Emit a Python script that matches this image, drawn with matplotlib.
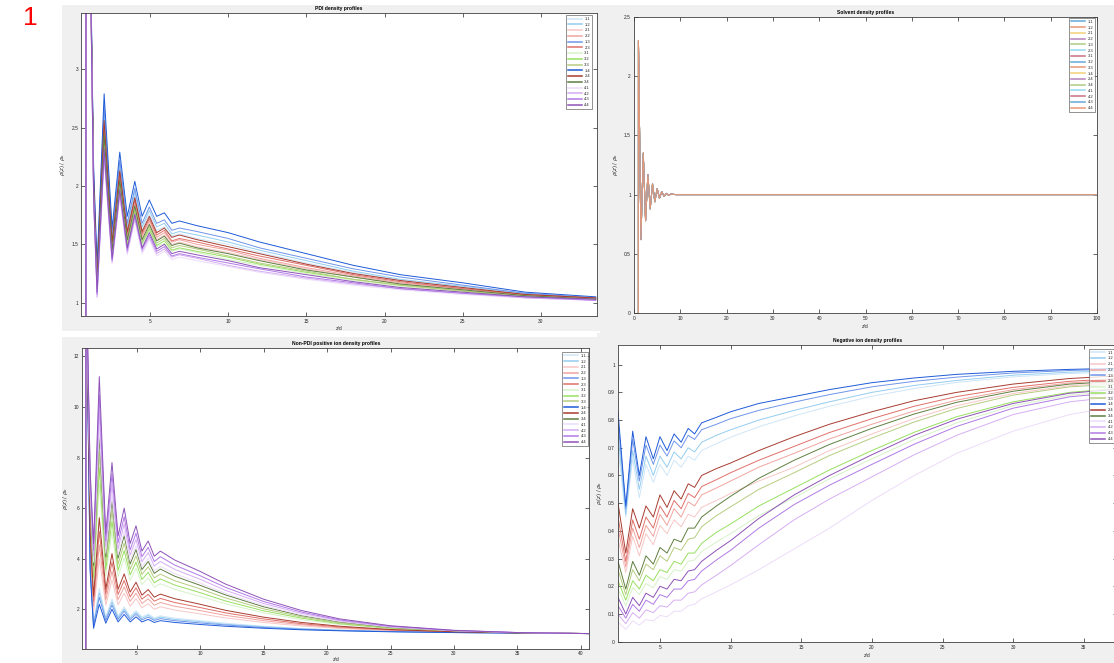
import matplotlib
matplotlib.use('Agg')
import matplotlib.pyplot as plt
from matplotlib.patches import Rectangle
from matplotlib.ticker import FuncFormatter

plt.rcParams['font.family'] = ['Liberation Sans', 'DejaVu Sans']
plt.rcParams['mathtext.fontset'] = 'dejavusans'

W, H = 1114, 663

labels = ['1:1', '1:2', '2:1', '2:2', '1:3', '2:3', '3:1', '3:2', '3:3',
          '1:4', '2:4', '3:4', '4:1', '4:2', '4:3', '4:4']

family_colors = {
    '1:1': '#cfe6f8', '1:2': '#94cdf0', '1:3': '#6f95ea', '1:4': '#1f5bd8',
    '2:1': '#f8c6c6', '2:2': '#f0a4a0', '2:3': '#e0706a', '2:4': '#a83c30',
    '3:1': '#d6f2c8', '3:2': '#98e060', '3:3': '#b6cc80', '3:4': '#5f7f40',
    '4:1': '#ecdcfa', '4:2': '#d6aef4', '4:3': '#b07ae6', '4:4': '#8e52b8',
}
matlab_cycle = ['#0072BD', '#D95319', '#EDB120', '#7E2F8E', '#77AC30', '#4DBEEE', '#A2142F']

# ---------------- PDI density profiles ----------------
pdi_x = [0.9, 0.915, 1.4, 1.62, 2.07, 2.58, 3.07, 3.55, 4.03, 4.5, 4.96, 5.43,
         5.92, 6.4, 6.88, 8, 10, 12, 15, 18, 21, 25, 29, 33.5]
pdi = {
    '1:4': [0, 6.5, 2.15, 1.32, 2.79, 1.64, 2.29, 1.74, 2.04, 1.74, 1.88, 1.74, 1.77, 1.68, 1.70, 1.66, 1.60, 1.52, 1.42, 1.32, 1.24, 1.17, 1.09, 1.05],
    '1:3': [0, 6.5, 2.10, 1.27, 2.69, 1.58, 2.22, 1.68, 1.98, 1.68, 1.82, 1.68, 1.71, 1.62, 1.64, 1.61, 1.55, 1.47, 1.38, 1.29, 1.22, 1.15, 1.08, 1.04],
    '1:2': [0, 6.5, 2.07, 1.24, 2.63, 1.55, 2.18, 1.65, 1.95, 1.65, 1.79, 1.65, 1.68, 1.59, 1.61, 1.58, 1.52, 1.45, 1.36, 1.27, 1.20, 1.14, 1.08, 1.04],
    '1:1': [0, 6.5, 2.04, 1.22, 2.59, 1.53, 2.15, 1.62, 1.92, 1.63, 1.76, 1.62, 1.65, 1.57, 1.59, 1.55, 1.50, 1.43, 1.34, 1.26, 1.19, 1.13, 1.07, 1.04],
    '2:4': [0, 6.5, 2.03, 1.21, 2.56, 1.52, 2.13, 1.61, 1.90, 1.61, 1.74, 1.60, 1.64, 1.56, 1.58, 1.54, 1.48, 1.42, 1.33, 1.25, 1.19, 1.13, 1.07, 1.04],
    '2:3': [0, 6.5, 2.01, 1.19, 2.52, 1.49, 2.11, 1.59, 1.88, 1.59, 1.72, 1.58, 1.62, 1.53, 1.55, 1.52, 1.46, 1.40, 1.32, 1.24, 1.18, 1.12, 1.07, 1.04],
    '2:2': [0, 6.5, 1.99, 1.17, 2.49, 1.48, 2.08, 1.57, 1.86, 1.57, 1.70, 1.56, 1.60, 1.52, 1.54, 1.50, 1.45, 1.38, 1.30, 1.23, 1.17, 1.12, 1.06, 1.03],
    '2:1': [0, 6.5, 1.97, 1.15, 2.45, 1.46, 2.06, 1.55, 1.84, 1.55, 1.68, 1.54, 1.58, 1.50, 1.52, 1.48, 1.43, 1.37, 1.29, 1.22, 1.16, 1.11, 1.06, 1.03],
    '3:4': [0, 6.5, 1.96, 1.15, 2.44, 1.45, 2.05, 1.54, 1.83, 1.54, 1.67, 1.53, 1.57, 1.49, 1.51, 1.47, 1.42, 1.36, 1.28, 1.22, 1.16, 1.11, 1.06, 1.03],
    '3:3': [0, 6.5, 1.95, 1.13, 2.40, 1.43, 2.03, 1.52, 1.81, 1.52, 1.65, 1.51, 1.55, 1.47, 1.49, 1.46, 1.40, 1.34, 1.27, 1.20, 1.15, 1.10, 1.06, 1.03],
    '3:2': [0, 6.5, 1.93, 1.12, 2.37, 1.41, 2.01, 1.50, 1.79, 1.51, 1.63, 1.49, 1.53, 1.45, 1.47, 1.44, 1.39, 1.33, 1.26, 1.20, 1.15, 1.10, 1.05, 1.03],
    '3:1': [0, 6.5, 1.92, 1.10, 2.35, 1.40, 1.99, 1.48, 1.78, 1.49, 1.62, 1.48, 1.51, 1.44, 1.46, 1.43, 1.37, 1.32, 1.25, 1.19, 1.14, 1.09, 1.05, 1.03],
    '4:4': [0, 6.5, 1.90, 1.09, 2.32, 1.38, 1.97, 1.47, 1.76, 1.47, 1.60, 1.46, 1.50, 1.42, 1.44, 1.41, 1.36, 1.30, 1.24, 1.18, 1.13, 1.09, 1.05, 1.03],
    '4:3': [0, 6.5, 1.88, 1.07, 2.28, 1.36, 1.94, 1.45, 1.74, 1.46, 1.58, 1.44, 1.48, 1.40, 1.42, 1.39, 1.34, 1.29, 1.22, 1.17, 1.12, 1.08, 1.05, 1.02],
    '4:2': [0, 6.5, 1.87, 1.05, 2.25, 1.35, 1.92, 1.43, 1.72, 1.44, 1.56, 1.42, 1.46, 1.39, 1.41, 1.38, 1.32, 1.27, 1.21, 1.16, 1.12, 1.08, 1.04, 1.02],
    '4:1': [0, 6.5, 1.85, 1.04, 2.22, 1.33, 1.90, 1.41, 1.70, 1.42, 1.54, 1.40, 1.44, 1.37, 1.39, 1.36, 1.31, 1.26, 1.20, 1.15, 1.11, 1.07, 1.04, 1.02],
}

# ---------------- Solvent density profiles (all series coincide) ----------------
solv_x = [0.95, 0.96, 1.5, 2.0, 2.5, 3.0, 3.5, 4.0, 4.5, 5.0, 5.5, 6.0, 6.5, 7.0, 7.5, 8.0, 9.0, 100]
solv_y = [0, 2.3, 0.62, 1.35, 0.78, 1.17, 0.88, 1.09, 0.94, 1.05, 0.97, 1.025, 0.985, 1.01, 0.995, 1.004, 1.0, 1.0]

# ---------------- Non-PDI positive ion density profiles ----------------
pos_x = [1.0, 1.015, 1.35, 1.62, 2.07, 2.58, 3.07, 3.55, 4.03, 4.5, 4.96, 5.43,
         5.92, 6.4, 6.88, 8, 10, 12, 15, 18, 21, 25, 30, 35, 40.6]
pos = {
    '4:4': [0, 16, 7.5, 4.60, 11.2, 5.00, 7.80, 4.90, 6.00, 4.60, 5.30, 4.30, 4.70, 4.10, 4.30, 3.95, 3.50, 3.00, 2.40, 1.95, 1.62, 1.35, 1.17, 1.08, 1.04],
    '4:3': [0, 16, 7.18, 4.33, 10.48, 4.72, 7.34, 4.63, 5.66, 4.35, 5.01, 4.08, 4.45, 3.89, 4.08, 3.75, 3.33, 2.87, 2.31, 1.89, 1.58, 1.33, 1.16, 1.08, 1.04],
    '4:2': [0, 16, 6.9, 4.10, 9.85, 4.47, 6.93, 4.39, 5.37, 4.14, 4.76, 3.88, 4.24, 3.71, 3.89, 3.58, 3.19, 2.75, 2.23, 1.84, 1.55, 1.31, 1.16, 1.08, 1.04],
    '4:1': [0, 16, 6.62, 3.86, 9.22, 4.22, 6.52, 4.15, 5.08, 3.92, 4.51, 3.68, 4.02, 3.52, 3.70, 3.41, 3.04, 2.63, 2.15, 1.78, 1.52, 1.30, 1.15, 1.08, 1.04],
    '3:4': [0, 16, 6.46, 3.73, 8.86, 4.08, 6.29, 4.02, 4.91, 3.79, 4.36, 3.57, 3.89, 3.42, 3.59, 3.31, 2.95, 2.57, 2.10, 1.75, 1.50, 1.29, 1.15, 1.07, 1.04],
    '3:3': [0, 16, 6.18, 3.49, 8.23, 3.83, 5.89, 3.78, 4.61, 3.58, 4.11, 3.38, 3.68, 3.24, 3.39, 3.13, 2.81, 2.45, 2.02, 1.70, 1.46, 1.27, 1.14, 1.07, 1.04],
    '3:2': [0, 16, 5.9, 3.26, 7.6, 3.58, 5.48, 3.54, 4.32, 3.36, 3.86, 3.18, 3.46, 3.05, 3.20, 2.96, 2.66, 2.33, 1.94, 1.65, 1.43, 1.25, 1.13, 1.07, 1.04],
    '3:1': [0, 16, 5.62, 3.03, 6.97, 3.33, 5.07, 3.30, 4.03, 3.14, 3.61, 2.98, 3.24, 2.87, 3.01, 2.79, 2.51, 2.22, 1.86, 1.59, 1.40, 1.24, 1.13, 1.07, 1.04],
    '2:4': [0, 16, 5.02, 2.52, 5.62, 2.80, 4.20, 2.79, 3.40, 2.68, 3.07, 2.56, 2.78, 2.48, 2.60, 2.42, 2.20, 1.96, 1.69, 1.48, 1.33, 1.20, 1.11, 1.07, 1.04],
    '2:3': [0, 16, 4.78, 2.32, 5.08, 2.59, 3.86, 2.59, 3.14, 2.49, 2.85, 2.40, 2.59, 2.32, 2.43, 2.27, 2.07, 1.86, 1.62, 1.43, 1.30, 1.19, 1.11, 1.07, 1.04],
    '2:2': [0, 16, 4.54, 2.12, 4.54, 2.37, 3.51, 2.38, 2.89, 2.31, 2.64, 2.23, 2.41, 2.16, 2.27, 2.12, 1.95, 1.76, 1.55, 1.39, 1.27, 1.17, 1.10, 1.07, 1.04],
    '2:1': [0, 16, 4.3, 1.92, 4.0, 2.16, 3.16, 2.18, 2.64, 2.12, 2.42, 2.06, 2.22, 2.00, 2.10, 1.97, 1.82, 1.66, 1.48, 1.34, 1.24, 1.16, 1.10, 1.06, 1.04],
    '1:1': [0, 16, 3.78, 1.48, 2.83, 1.70, 2.41, 1.74, 2.09, 1.72, 1.95, 1.70, 1.82, 1.66, 1.74, 1.65, 1.55, 1.45, 1.33, 1.24, 1.18, 1.13, 1.09, 1.06, 1.04],
    '1:2': [0, 16, 3.7, 1.42, 2.65, 1.63, 2.29, 1.67, 2.01, 1.66, 1.88, 1.64, 1.76, 1.61, 1.69, 1.60, 1.51, 1.41, 1.31, 1.23, 1.17, 1.12, 1.08, 1.06, 1.04],
    '1:3': [0, 16, 3.62, 1.35, 2.47, 1.56, 2.17, 1.60, 1.93, 1.59, 1.81, 1.58, 1.69, 1.56, 1.63, 1.55, 1.46, 1.38, 1.28, 1.21, 1.16, 1.12, 1.08, 1.06, 1.04],
    '1:4': [0, 16, 3.5, 1.25, 2.2, 1.45, 2.0, 1.5, 1.8, 1.5, 1.7, 1.5, 1.6, 1.48, 1.55, 1.48, 1.40, 1.33, 1.25, 1.19, 1.15, 1.11, 1.08, 1.06, 1.04],
}

# ---------------- Negative ion density profiles ----------------
neg_x = [2.03, 2.58, 3.07, 3.54, 4.01, 4.53, 5.0, 5.5, 6.0, 6.5, 7.0, 7.45,
         7.95, 9, 10, 12, 14.5, 17, 20, 23, 26, 30, 34, 37.5]
neg = {
    '1:4': [0.83, 0.49, 0.76, 0.60, 0.74, 0.66, 0.74, 0.69, 0.75, 0.72, 0.77, 0.75, 0.79, 0.81, 0.83, 0.86, 0.885, 0.91, 0.935, 0.952, 0.965, 0.976, 0.983, 0.987],
    '1:3': [0.80, 0.48, 0.73, 0.58, 0.71, 0.64, 0.71, 0.67, 0.725, 0.70, 0.745, 0.73, 0.765, 0.785, 0.805, 0.835, 0.865, 0.892, 0.92, 0.94, 0.955, 0.97, 0.979, 0.984],
    '1:2': [0.75, 0.46, 0.69, 0.55, 0.67, 0.60, 0.67, 0.63, 0.685, 0.66, 0.70, 0.685, 0.72, 0.745, 0.765, 0.80, 0.835, 0.866, 0.90, 0.925, 0.943, 0.962, 0.973, 0.978],
    '1:1': [0.70, 0.45, 0.66, 0.52, 0.64, 0.575, 0.64, 0.60, 0.655, 0.63, 0.67, 0.655, 0.69, 0.715, 0.738, 0.776, 0.815, 0.85, 0.886, 0.914, 0.936, 0.956, 0.968, 0.974],
    '2:4': [0.50, 0.32, 0.48, 0.41, 0.49, 0.45, 0.53, 0.485, 0.545, 0.515, 0.57, 0.557, 0.60, 0.625, 0.645, 0.69, 0.74, 0.785, 0.83, 0.87, 0.90, 0.93, 0.95, 0.96],
    '2:3': [0.45, 0.29, 0.44, 0.37, 0.45, 0.41, 0.49, 0.45, 0.51, 0.48, 0.535, 0.52, 0.56, 0.585, 0.61, 0.655, 0.705, 0.755, 0.805, 0.85, 0.885, 0.918, 0.94, 0.95],
    '2:2': [0.41, 0.27, 0.41, 0.34, 0.42, 0.38, 0.46, 0.42, 0.48, 0.45, 0.505, 0.49, 0.53, 0.555, 0.58, 0.63, 0.68, 0.732, 0.785, 0.833, 0.872, 0.91, 0.934, 0.945],
    '2:1': [0.37, 0.25, 0.38, 0.31, 0.39, 0.35, 0.42, 0.39, 0.44, 0.415, 0.46, 0.45, 0.485, 0.51, 0.535, 0.58, 0.63, 0.69, 0.75, 0.806, 0.852, 0.896, 0.924, 0.935],
    '3:4': [0.29, 0.19, 0.29, 0.24, 0.31, 0.28, 0.34, 0.32, 0.37, 0.36, 0.41, 0.41, 0.45, 0.49, 0.525, 0.59, 0.655, 0.712, 0.77, 0.822, 0.864, 0.904, 0.93, 0.94],
    '3:3': [0.26, 0.17, 0.26, 0.22, 0.28, 0.26, 0.31, 0.29, 0.34, 0.33, 0.37, 0.375, 0.415, 0.455, 0.487, 0.55, 0.61, 0.672, 0.735, 0.793, 0.842, 0.89, 0.92, 0.93],
    '3:2': [0.22, 0.15, 0.22, 0.19, 0.24, 0.22, 0.26, 0.25, 0.29, 0.28, 0.32, 0.32, 0.355, 0.395, 0.425, 0.49, 0.555, 0.62, 0.69, 0.756, 0.812, 0.866, 0.90, 0.915],
    '3:1': [0.19, 0.13, 0.195, 0.17, 0.21, 0.195, 0.235, 0.225, 0.26, 0.255, 0.29, 0.295, 0.325, 0.36, 0.39, 0.455, 0.52, 0.588, 0.66, 0.73, 0.79, 0.852, 0.89, 0.905],
    '4:4': [0.16, 0.10, 0.16, 0.13, 0.175, 0.16, 0.20, 0.19, 0.225, 0.22, 0.255, 0.26, 0.29, 0.33, 0.365, 0.445, 0.53, 0.60, 0.675, 0.745, 0.803, 0.86, 0.897, 0.912],
    '4:3': [0.13, 0.085, 0.135, 0.11, 0.15, 0.135, 0.17, 0.16, 0.19, 0.19, 0.22, 0.225, 0.255, 0.295, 0.33, 0.41, 0.495, 0.565, 0.64, 0.713, 0.777, 0.843, 0.884, 0.90],
    '4:2': [0.10, 0.065, 0.105, 0.085, 0.115, 0.105, 0.13, 0.125, 0.15, 0.15, 0.175, 0.18, 0.205, 0.24, 0.275, 0.35, 0.44, 0.515, 0.595, 0.675, 0.745, 0.82, 0.866, 0.885],
    '4:1': [0.07, 0.045, 0.075, 0.06, 0.08, 0.075, 0.095, 0.09, 0.11, 0.11, 0.13, 0.135, 0.155, 0.18, 0.205, 0.26, 0.335, 0.41, 0.51, 0.60, 0.68, 0.76, 0.82, 0.85],
}


def frac(px_l, px_t, px_r, px_b):
    return [px_l / W, 1 - px_b / H, (px_r - px_l) / W, (px_b - px_t) / H]


def lighten(hexcol, amt):
    hexcol = hexcol.lstrip('#')
    r, g, b = (int(hexcol[i:i + 2], 16) for i in (0, 2, 4))
    r = int(r + (255 - r) * amt)
    g = int(g + (255 - g) * amt)
    b = int(b + (255 - b) * amt)
    return '#%02x%02x%02x' % (r, g, b)


fig = plt.figure(figsize=(W / 100, H / 100), dpi=100, facecolor='white')

GRAY = '#f0f0f0'
for (l, t, r, b) in [(62, 5, 600, 331), (600, 5, 1114, 333), (62, 337, 597, 663), (597, 333, 1114, 663)]:
    fig.add_artist(Rectangle((l / W, 1 - b / H), (r - l) / W, (b - t) / H,
                             transform=fig.transFigure, facecolor=GRAY,
                             edgecolor='none', zorder=-5))

fig.text(30 / W, 1 - 18 / H, '1', color='#ff0000', fontsize=19,
         ha='center', va='center')

fmt = FuncFormatter(lambda v, p: '%g' % round(v, 4))
TXT = '#262626'


def style(ax, xlim, ylim, xticks, yticks, title, ylabel):
    ax.set_facecolor('white')
    ax.set_xlim(*xlim)
    ax.set_ylim(*ylim)
    ax.set_xticks(xticks)
    ax.set_yticks(yticks)
    ax.xaxis.set_major_formatter(fmt)
    ax.yaxis.set_major_formatter(fmt)
    ax.tick_params(direction='in', length=3.2, width=0.5, labelsize=3.5,
                   colors=TXT, top=True, right=True, pad=2.2)
    for sp in ax.spines.values():
        sp.set_linewidth(0.6)
        sp.set_color('#404040')
    ax.set_title(title, fontsize=3.6, fontweight='bold', color='black', pad=2.2)
    ax.set_xlabel('z/d', fontsize=3.6, color=TXT, labelpad=2)
    ax.set_ylabel(ylabel, fontsize=3.8, color=TXT, labelpad=3)


def add_legend(ax, anchor):
    leg = ax.legend(loc='upper right', bbox_to_anchor=anchor, fontsize=3.0,
                    handlelength=3.4, handletextpad=0.6, labelspacing=0.42,
                    borderpad=0.45, borderaxespad=0.0, frameon=True,
                    fancybox=False)
    leg.get_frame().set_edgecolor('#404040')
    leg.get_frame().set_linewidth(0.5)
    for ln in leg.get_lines():
        ln.set_linewidth(1.1)
    for t in leg.get_texts():
        t.set_color(TXT)


YL = r'$\rho(z)\ /\ \rho_b$'

# Panel A: PDI
axA = fig.add_axes(frac(81.3, 12.7, 597, 315.5))
for lab in labels:
    axA.plot(pdi_x, pdi[lab], color=family_colors[lab], lw=0.7, label=lab)
style(axA, (0.61, 33.58), (0.89, 3.485), [5, 10, 15, 20, 25, 30],
      [1, 1.5, 2, 2.5, 3], 'PDI density profiles', YL)
add_legend(axA, (0.99, 0.992))

# Panel B: solvent
axB = fig.add_axes(frac(634, 17, 1097, 313))
for i, lab in enumerate(labels):
    axB.plot(solv_x, solv_y, color=lighten(matlab_cycle[i % 7], 0.4), lw=0.7, label=lab)
style(axB, (0, 100), (0, 2.5), list(range(0, 101, 10)),
      [0, 0.5, 1, 1.5, 2, 2.5], 'Solvent density profiles', YL)
add_legend(axB, (0.996, 0.997))

# Panel C: non-PDI positive ions
C_TOP, C_BOT = 348, 649
axC = fig.add_axes(frac(82.4, C_TOP, 589, C_BOT))
for lab in labels:
    axC.plot(pos_x, pos[lab], color=family_colors[lab], lw=0.7, label=lab)
style(axC, (0.74, 40.63), (0.43, 12.33), [5, 10, 15, 20, 25, 30, 35, 40],
      [2, 4, 6, 8, 10, 12], 'Non-PDI positive ion density profiles', YL)
axC.tick_params(axis='x', pad=1.6)
axC.xaxis.label.set_va('center')
axC.xaxis.set_label_coords(0.5, -(659.3 - C_BOT) / (C_BOT - C_TOP))
add_legend(axC, (0.998, 0.987))

# Panel D: negative ions
axD = fig.add_axes(frac(618, 345, 1117, 641.7))
for lab in labels:
    axD.plot(neg_x, neg[lab], color=family_colors[lab], lw=0.7, label=lab)
style(axD, (2.03, 37.35), (0, 1.071), [5, 10, 15, 20, 25, 30, 35],
      [0, 0.1, 0.2, 0.3, 0.4, 0.5, 0.6, 0.7, 0.8, 0.9, 1.0],
      'Negative ion density profiles', r'$\rho_i(z)\ /\ \rho_b$')
add_legend(axD, (0.996, 0.987))

fig.savefig('out.png', dpi=100, facecolor='white')
